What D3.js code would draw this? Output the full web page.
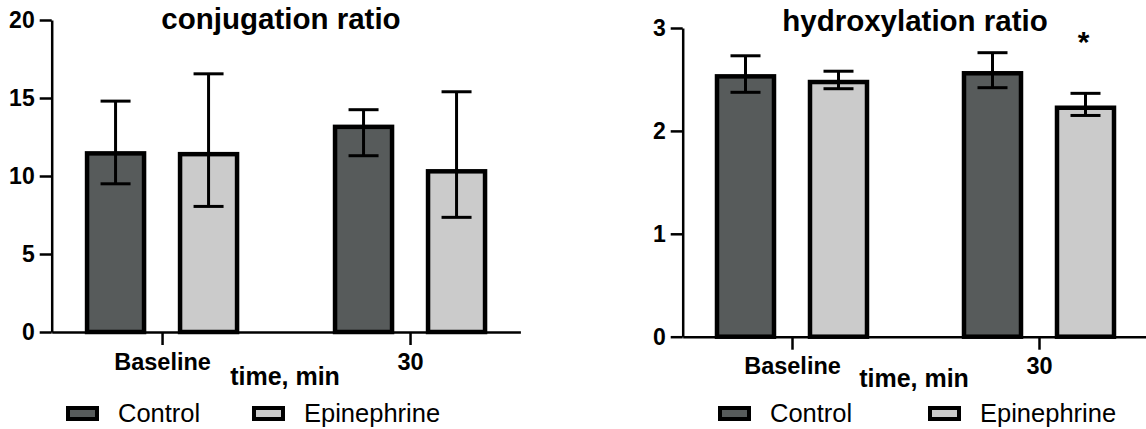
<!DOCTYPE html>
<html>
<head>
<meta charset="utf-8">
<script src="https://cdn.jsdelivr.net/npm/d3@7"></script>
<style>
  body { margin: 0; background: #fff; }
  svg { display: block; font-family: "Liberation Sans", Arial, sans-serif; }
</style>
</head>
<body>
<svg id="chart" width="1146" height="429"></svg>
<script>
// groups on the x axis and the two series
const groups = ["Baseline", "30"];
const series = ["Control", "Epinephrine"];

// conjugation ratio (mean, lower / upper end of the error bar), per group
const conjControl = [11.45, 13.15];
const conjControlLo = [9.5, 11.3];
const conjControlHi = [14.8, 14.25];
const conjEpi = [11.4, 10.3];
const conjEpiLo = [8.05, 7.35];
const conjEpiHi = [16.55, 15.4];

// hydroxylation ratio
const hydControl = [2.53, 2.56];
const hydControlLo = [2.375, 2.42];
const hydControlHi = [2.73, 2.76];
const hydEpi = [2.475, 2.225];
const hydEpiLo = [2.41, 2.15];
const hydEpiHi = [2.58, 2.365];

const conjTicks = [0, 5, 10, 15, 20];
const hydTicks = [0, 1, 2, 3];

const fills = { Control: "#575b5b", Epinephrine: "#cbcbcb" };

const svg = d3.select("#chart");

function rows(mean, lo, hi, name) {
  return groups.map((g, i) => ({ group: g, series: name, mean: mean[i], lo: lo[i], hi: hi[i] }));
}

function drawPanel(opt) {
  const g = svg.append("g");

  const x = d3.scalePoint().domain(groups).range([opt.x0, opt.x1]).padding(opt.pad);
  const sub = d3.scalePoint().domain(series).range([-46.5, 46.5]);
  const y = d3.scaleLinear().domain([0, d3.max(opt.ticks)]).range([opt.y0, opt.y1]);

  const data = rows(opt.control, opt.controlLo, opt.controlHi, "Control")
    .concat(rows(opt.epi, opt.epiLo, opt.epiHi, "Epinephrine"));

  const barW = 57;

  // bars
  g.selectAll("rect.bar")
    .data(data)
    .join("rect")
    .attr("class", "bar")
    .attr("x", d => x(d.group) + sub(d.series) - barW / 2)
    .attr("y", d => y(d.mean))
    .attr("width", barW)
    .attr("height", d => y(0) - y(d.mean))
    .attr("fill", d => fills[d.series])
    .attr("stroke", "#000")
    .attr("stroke-width", 4.5);

  // error bars
  const err = g.selectAll("g.err").data(data).join("g").attr("class", "err")
    .attr("stroke", "#000").attr("stroke-width", 3);
  err.append("line")
    .attr("x1", d => x(d.group) + sub(d.series))
    .attr("x2", d => x(d.group) + sub(d.series))
    .attr("y1", d => y(d.lo))
    .attr("y2", d => y(d.hi));
  [d => d.lo, d => d.hi].forEach(f => {
    err.append("line")
      .attr("x1", d => x(d.group) + sub(d.series) - 15)
      .attr("x2", d => x(d.group) + sub(d.series) + 15)
      .attr("y1", d => y(f(d)))
      .attr("y2", d => y(f(d)));
  });

  // y axis
  const yAxis = g.append("g")
    .attr("transform", `translate(${opt.x0},0)`)
    .call(d3.axisLeft(y).tickValues(opt.ticks).tickFormat(d3.format("d"))
      .tickSize(12).tickSizeOuter(0).tickPadding(5));
  yAxis.selectAll("path, line").attr("stroke", "#000").attr("stroke-width", 2.5);
  yAxis.selectAll("text").attr("font-size", 23).attr("font-weight", "bold")
    .attr("fill", "#000").attr("font-family", "Liberation Sans, Arial, sans-serif");

  // x axis
  const xAxis = g.append("g")
    .attr("transform", `translate(0,${opt.y0})`)
    .call(d3.axisBottom(x).tickSize(13).tickSizeOuter(0).tickPadding(8));
  xAxis.selectAll("path, line").attr("stroke", "#000").attr("stroke-width", 2.5);
  xAxis.selectAll("text").attr("font-size", 23.5).attr("font-weight", "bold")
    .attr("fill", "#000").attr("font-family", "Liberation Sans, Arial, sans-serif");

  // title and axis title
  g.append("text")
    .attr("x", opt.titleX).attr("y", opt.titleY)
    .attr("text-anchor", "middle")
    .attr("font-size", 29.5).attr("font-weight", "bold")
    .text(opt.title);

  g.append("text")
    .attr("x", opt.axisTitleX).attr("y", opt.axisTitleY)
    .attr("text-anchor", "middle")
    .attr("font-size", 25).attr("font-weight", "bold")
    .text("time, min");

  // legend
  const leg = g.selectAll("g.leg").data(series).join("g").attr("class", "leg")
    .attr("transform", (d, i) => `translate(${opt.legendX[i]},${opt.legendY})`);
  leg.append("rect")
    .attr("x", 2).attr("y", -14).attr("width", 29).attr("height", 11)
    .attr("fill", d => fills[d]).attr("stroke", "#000").attr("stroke-width", 4);
  leg.append("text")
    .attr("x", 52).attr("y", 0)
    .attr("font-size", 25.5)
    .text(d => d);

  return { x, sub, y };
}

drawPanel({
  x0: 51.7, x1: 520.4, pad: 0.445, y0: 332, y1: 20,
  ticks: conjTicks,
  control: conjControl, controlLo: conjControlLo, controlHi: conjControlHi,
  epi: conjEpi, epiLo: conjEpiLo, epiHi: conjEpiHi,
  title: "conjugation ratio", titleX: 281, titleY: 29,
  axisTitleX: 285, axisTitleY: 385,
  legendX: [66, 252], legendY: 422
});

const right = drawPanel({
  x0: 682.7, x1: 1148.3, pad: 0.4425, y0: 336.7, y1: 28,
  ticks: hydTicks,
  control: hydControl, controlLo: hydControlLo, controlHi: hydControlHi,
  epi: hydEpi, epiLo: hydEpiLo, epiHi: hydEpiHi,
  title: "hydroxylation ratio", titleX: 915, titleY: 31,
  axisTitleX: 914, axisTitleY: 387,
  legendX: [718, 928], legendY: 422
});

// significance mark over Epinephrine at 30 min
svg.append("text")
  .attr("x", right.x("30") + right.sub("Epinephrine") - 2)
  .attr("y", right.y(hydEpiHi[1]) - 41)
  .attr("text-anchor", "middle")
  .attr("font-size", 30).attr("font-weight", "bold")
  .text("*");
</script>
</body>
</html>
